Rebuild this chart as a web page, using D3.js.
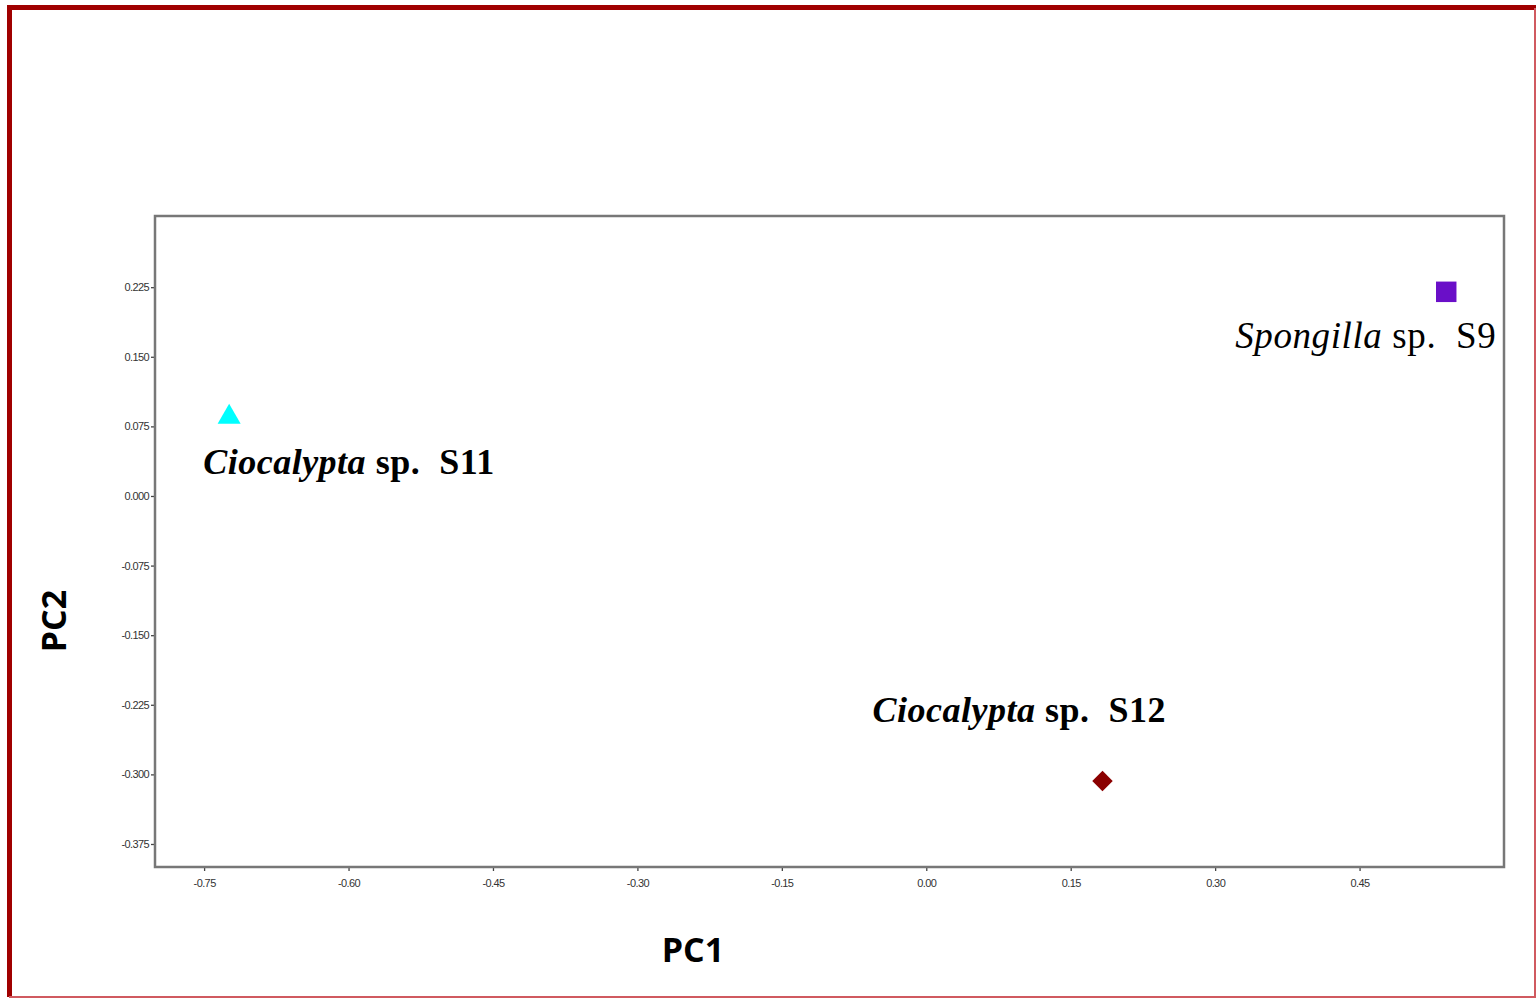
<!DOCTYPE html>
<html>
<head>
<meta charset="utf-8">
<script src="https://cdn.jsdelivr.net/npm/d3@7"></script>
<style>
  body { margin: 0; background: #fff; }
  svg { display: block; }
</style>
</head>
<body>
<div class="pca-plot"></div>
<script>
// scores on the first two components
const samples = ['Spongilla sp. S9', 'Ciocalypta sp. S11', 'Ciocalypta sp. S12'];
const genus = ['Spongilla', 'Ciocalypta', 'Ciocalypta'];
const tag = ['sp.  S9', 'sp.  S11', 'sp.  S12'];
const pc1 = [0.540, -0.724, 0.183];
const pc2 = [0.220, 0.085, -0.307];
const shapes = ['square', 'triangle', 'diamond'];
const colors = ['#6a0fc8', '#00ffff', '#8b0000'];
const xTicks = [-0.75, -0.60, -0.45, -0.30, -0.15, 0.00, 0.15, 0.30, 0.45];
const yTicks = [0.225, 0.150, 0.075, 0.000, -0.075, -0.150, -0.225, -0.300, -0.375];

const width = 1538;
const height = 1000;
const svg = d3.select('.pca-plot')
    .append('svg')
    .attr('width', width)
    .attr('height', height)

// red frame round the figure
svg.append('path')
    .attr('d', 'M9.5,997 V7.5 H1536')
    .attr('fill', 'none')
    .attr('stroke', '#a00000')
    .attr('stroke-width', 5)
svg.append('path')
    .attr('d', 'M1535,8 V997 H9')
    .attr('fill', 'none')
    .attr('stroke', '#d05a60')
    .attr('stroke-width', 2)

const pLeft = 155, pRight = 1504, pTop = 216, pBottom = 867;
const x = d3.scaleLinear().domain([-0.801, 0.600]).range([pLeft, pRight]);
const y = d3.scaleLinear().domain([-0.3998, 0.3017]).range([pBottom, pTop]);

const xAxis = svg.append('g')
    .attr('transform', `translate(0,${pBottom})`)
    .call(d3.axisBottom(x).tickValues(xTicks).tickSize(4).tickPadding(8).tickFormat(d => d.toFixed(2)))
xAxis.select('.domain').remove()

const yAxis = svg.append('g')
    .attr('transform', `translate(${pLeft},0)`)
    .call(d3.axisLeft(y).tickValues(yTicks).tickSize(4).tickPadding(2).tickFormat(d => d.toFixed(3)))
yAxis.select('.domain').remove()

svg.selectAll('.tick line').attr('stroke', '#444').attr('stroke-width', 1.3)
svg.selectAll('.tick text')
    .attr('fill', '#333')
    .attr('font-family', 'Liberation Sans Narrow, Liberation Sans, sans-serif')
    .attr('font-size', 11)
    .attr('letter-spacing', -0.6)

svg.append('rect')
    .attr('x', pLeft)
    .attr('y', pTop)
    .attr('width', pRight - pLeft)
    .attr('height', pBottom - pTop)
    .attr('fill', 'none')
    .attr('stroke', '#777')
    .attr('stroke-width', 2.5)

const symbols = { square: d3.symbolSquare, triangle: d3.symbolTriangle, diamond: d3.symbolSquare };
const sizes = { square: 420, triangle: 230, diamond: 210 };

const pts = samples.map((s, i) => ({ name: s, genus: genus[i], tag: tag[i], x: pc1[i], y: pc2[i], shape: shapes[i], color: colors[i] }));

svg.selectAll('.pt')
    .data(pts)
    .enter()
    .append('path')
    .attr('class', 'pt')
    .attr('transform', (d) => `translate(${x(d.x)},${y(d.y)})` + (d.shape === 'diamond' ? ' rotate(45)' : ''))
    .attr('d', (d) => d3.symbol().type(symbols[d.shape]).size(sizes[d.shape])())
    .attr('fill', (d) => d.color)

// label placement relative to each point
const labelOffset = [[-211, 56], [-26, 57], [-230, -59]];
const labelBold = [false, true, true];
const labelSize = [37, 36, 36];
const labelSpacing = [0.6, 0.5, 0.5];

const labels = svg.selectAll('.lbl')
    .data(pts)
    .enter()
    .append('text')
    .attr('class', 'lbl')
    .attr('x', (d, i) => x(d.x) + labelOffset[i][0])
    .attr('y', (d, i) => y(d.y) + labelOffset[i][1])
    .attr('font-family', 'Liberation Serif, Times New Roman, serif')
    .attr('font-size', (d, i) => labelSize[i])
    .attr('font-weight', (d, i) => labelBold[i] ? 'bold' : 'normal')
    .attr('letter-spacing', (d, i) => labelSpacing[i])
    .attr('fill', '#000')
    .style('white-space', 'pre')
labels.append('tspan').attr('font-style', 'italic').text((d) => d.genus)
labels.append('tspan').text((d) => ' ' + d.tag)

svg.append('text')
    .attr('x', 693)
    .attr('y', 962)
    .attr('text-anchor', 'middle')
    .attr('font-family', 'Open Sans, Liberation Sans, sans-serif')
    .attr('font-weight', 'bold')
    .attr('font-size', 34)
    .text('PC1')

svg.append('text')
    .attr('transform', 'translate(66,621) rotate(-90)')
    .attr('text-anchor', 'middle')
    .attr('font-family', 'Open Sans, Liberation Sans, sans-serif')
    .attr('font-weight', 'bold')
    .attr('font-size', 34)
    .text('PC2')
</script>
</body>
</html>
